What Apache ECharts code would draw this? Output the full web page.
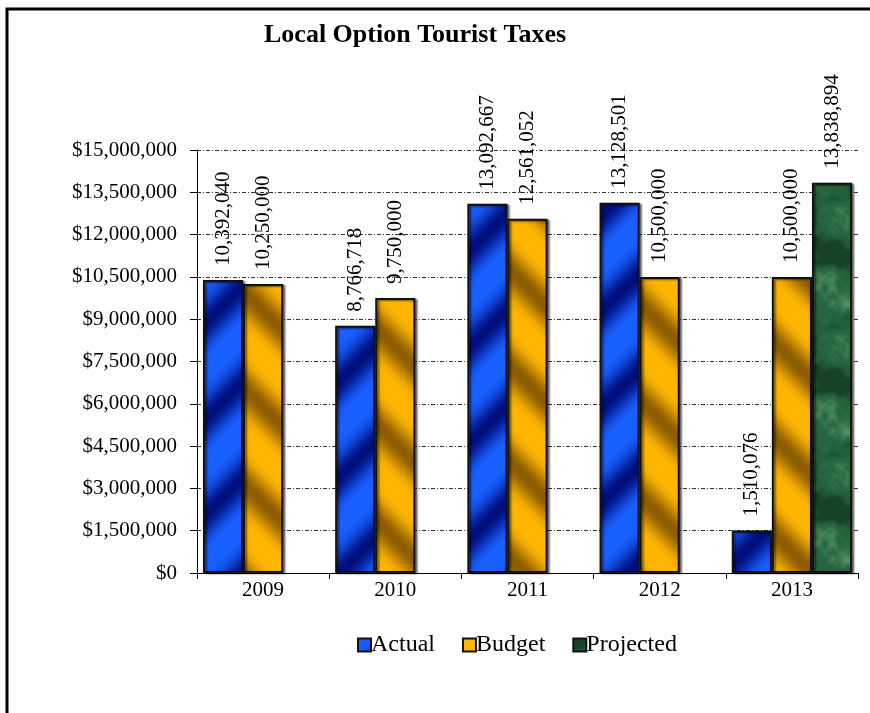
<!DOCTYPE html>
<html>
<head>
<meta charset="utf-8">
<title>Local Option Tourist Taxes</title>
<script src="https://cdn.jsdelivr.net/npm/echarts@6/dist/echarts.min.js"></script>
<style>
  html, body { margin: 0; padding: 0; background: #fff; }
  #chart { width: 870px; height: 713px; }
</style>
</head>
<body>
<div id="chart"></div>
<script>
// Fiscal years and amounts
const years = ['2009', '2010', '2011', '2012', '2013'];
const actual = [10392040, 8766718, 13092667, 13128501, 1510076];
const budget = [10250000, 9750000, 12561052, 10500000, 10500000];
const projected = [null, null, null, null, 13838894];

// Value axis
const yMin = 0;
const yMax = 15000000;
const yStep = 1500000;

const SERIF = '"Liberation Serif", "Times New Roman", Times, serif';

function mix(a, b, t) {
  return [a[0] + (b[0] - a[0]) * t, a[1] + (b[1] - a[1]) * t, a[2] + (b[2] - a[2]) * t];
}
function smooth(e0, e1, x) {
  const t = Math.min(1, Math.max(0, (x - e0) / (e1 - e0)));
  return t * t * (3 - 2 * t);
}

// Diagonal shaded stripes, tiled seamlessly
function stripeTile(size, light, dark, dir) {
  const c = document.createElement('canvas');
  c.width = c.height = size;
  const ctx = c.getContext('2d');
  const img = ctx.createImageData(size, size);
  for (let y = 0; y < size; y++) {
    for (let x = 0; x < size; x++) {
      const s = dir > 0 ? (x + y) : (x - y + size * 4);
      const ph = (s % size) / size;
      let k = 0.5 - 0.5 * Math.cos(2 * Math.PI * ph);
      k = Math.pow(k, 1.8);
      const col = mix(light, dark, k);
      const i = (y * size + x) * 4;
      img.data[i] = col[0]; img.data[i + 1] = col[1]; img.data[i + 2] = col[2]; img.data[i + 3] = 255;
    }
  }
  ctx.putImageData(img, 0, 0);
  return c;
}

// Hash-based value noise for a mottled marble texture
function hash(ix, iy) {
  let h = (ix * 374761393 + iy * 668265263) | 0;
  h = Math.imul(h ^ (h >>> 13), 1274126177);
  h = h ^ (h >>> 16);
  return (h >>> 0) / 4294967295;
}
function vnoise(x, y, cells, size) {
  const fx = x / size * cells, fy = y / size * cells;
  const x0 = Math.floor(fx), y0 = Math.floor(fy);
  const tx = fx - x0, ty = fy - y0;
  const sx = tx * tx * (3 - 2 * tx), sy = ty * ty * (3 - 2 * ty);
  const w = (v) => ((v % cells) + cells) % cells;
  const a = hash(w(x0), w(y0)), b = hash(w(x0 + 1), w(y0));
  const c = hash(w(x0), w(y0 + 1)), d = hash(w(x0 + 1), w(y0 + 1));
  const top = a + (b - a) * sx, bot = c + (d - c) * sx;
  return top + (bot - top) * sy;
}
function marbleTile(size) {
  const c = document.createElement('canvas');
  c.width = c.height = size;
  const ctx = c.getContext('2d');
  const img = ctx.createImageData(size, size);
  const dark = [22, 66, 38], mid = [38, 102, 62], light = [96, 154, 112];
  for (let y = 0; y < size; y++) {
    for (let x = 0; x < size; x++) {
      let n = 0, amp = 0.5, tot = 0;
      for (const cells of [4, 8, 16, 32, 64]) {
        n += vnoise(x, y, cells, size) * amp; tot += amp; amp *= 0.55;
      }
      n /= tot;
      let col = mix(dark, mid, smooth(0.3, 0.55, n));
      col = mix(col, light, smooth(0.56, 0.8, n) * 0.8);
      const i = (y * size + x) * 4;
      img.data[i] = col[0]; img.data[i + 1] = col[1]; img.data[i + 2] = col[2]; img.data[i + 3] = 255;
    }
  }
  ctx.putImageData(img, 0, 0);
  return c;
}

const bluePattern = { image: stripeTile(96, [24, 96, 255], [0, 14, 125], 1), repeat: 'repeat' };
const orangePattern = { image: stripeTile(96, [255, 182, 0], [140, 92, 0], -1), repeat: 'repeat' };
const greenPattern = { image: marbleTile(128), repeat: 'repeat' };

const fmt = (v) => Number(v).toLocaleString('en-US');

function barSeries(name, data, pattern) {
  return {
    name: name,
    type: 'bar',
    data: data,
    barGap: '0%',
    barCategoryGap: '9%',
    itemStyle: {
      color: pattern,
      borderColor: '#111',
      borderWidth: 2,
      shadowColor: 'rgba(0,0,0,0.55)',
      shadowBlur: 2,
      shadowOffsetX: 2,
      shadowOffsetY: 1
    },
    label: {
      show: true,
      position: 'top',
      rotate: 90,
      align: 'left',
      verticalAlign: 'middle',
      distance: 14,
      fontFamily: SERIF,
      fontSize: 21,
      color: '#000',
      formatter: (p) => fmt(p.value)
    }
  };
}

const chart = echarts.init(document.getElementById('chart'), null, { renderer: 'canvas' });

chart.setOption({
  backgroundColor: '#fff',
  animation: false,
  title: {
    text: 'Local Option Tourist Taxes',
    left: 259,
    top: 17,
    textStyle: { fontFamily: SERIF, fontSize: 26, fontWeight: 'bold', color: '#000' }
  },
  legend: {
    left: 352,
    top: 628,
    itemWidth: 13,
    itemHeight: 13,
    itemGap: 27,
    icon: 'rect',
    textStyle: { fontFamily: SERIF, fontSize: 24, color: '#000', padding: [0, 0, 0, -5] },
    data: ['Actual', 'Budget', 'Projected']
  },
  grid: { left: 197, right: 12, top: 150, bottom: 140, containLabel: false },
  xAxis: {
    type: 'category',
    data: years,
    axisLine: { lineStyle: { color: '#000', width: 1 } },
    axisTick: { show: true, length: 6, lineStyle: { color: '#000' } },
    axisLabel: { fontFamily: SERIF, fontSize: 21, color: '#000', margin: 7 }
  },
  yAxis: {
    type: 'value',
    min: yMin,
    max: yMax,
    interval: yStep,
    axisLine: { show: true, lineStyle: { color: '#000', width: 1 } },
    axisTick: { show: true, length: 7, lineStyle: { color: '#000' } },
    axisLabel: {
      fontFamily: SERIF, fontSize: 21, color: '#000', margin: 20,
      formatter: (v) => '$' + fmt(v)
    },
    splitLine: { show: true, lineStyle: { color: '#333', width: 1, type: [4, 2, 1, 2] } }
  },
  graphic: [{
    type: 'rect',
    z: 100,
    silent: true,
    shape: { x: 7, y: 9, width: 1000, height: 1000 },
    style: { fill: 'none', stroke: '#000', lineWidth: 3 }
  }],
  series: [
    barSeries('Actual', actual, bluePattern),
    barSeries('Budget', budget, orangePattern),
    barSeries('Projected', projected, greenPattern)
  ]
});
</script>
</body>
</html>
